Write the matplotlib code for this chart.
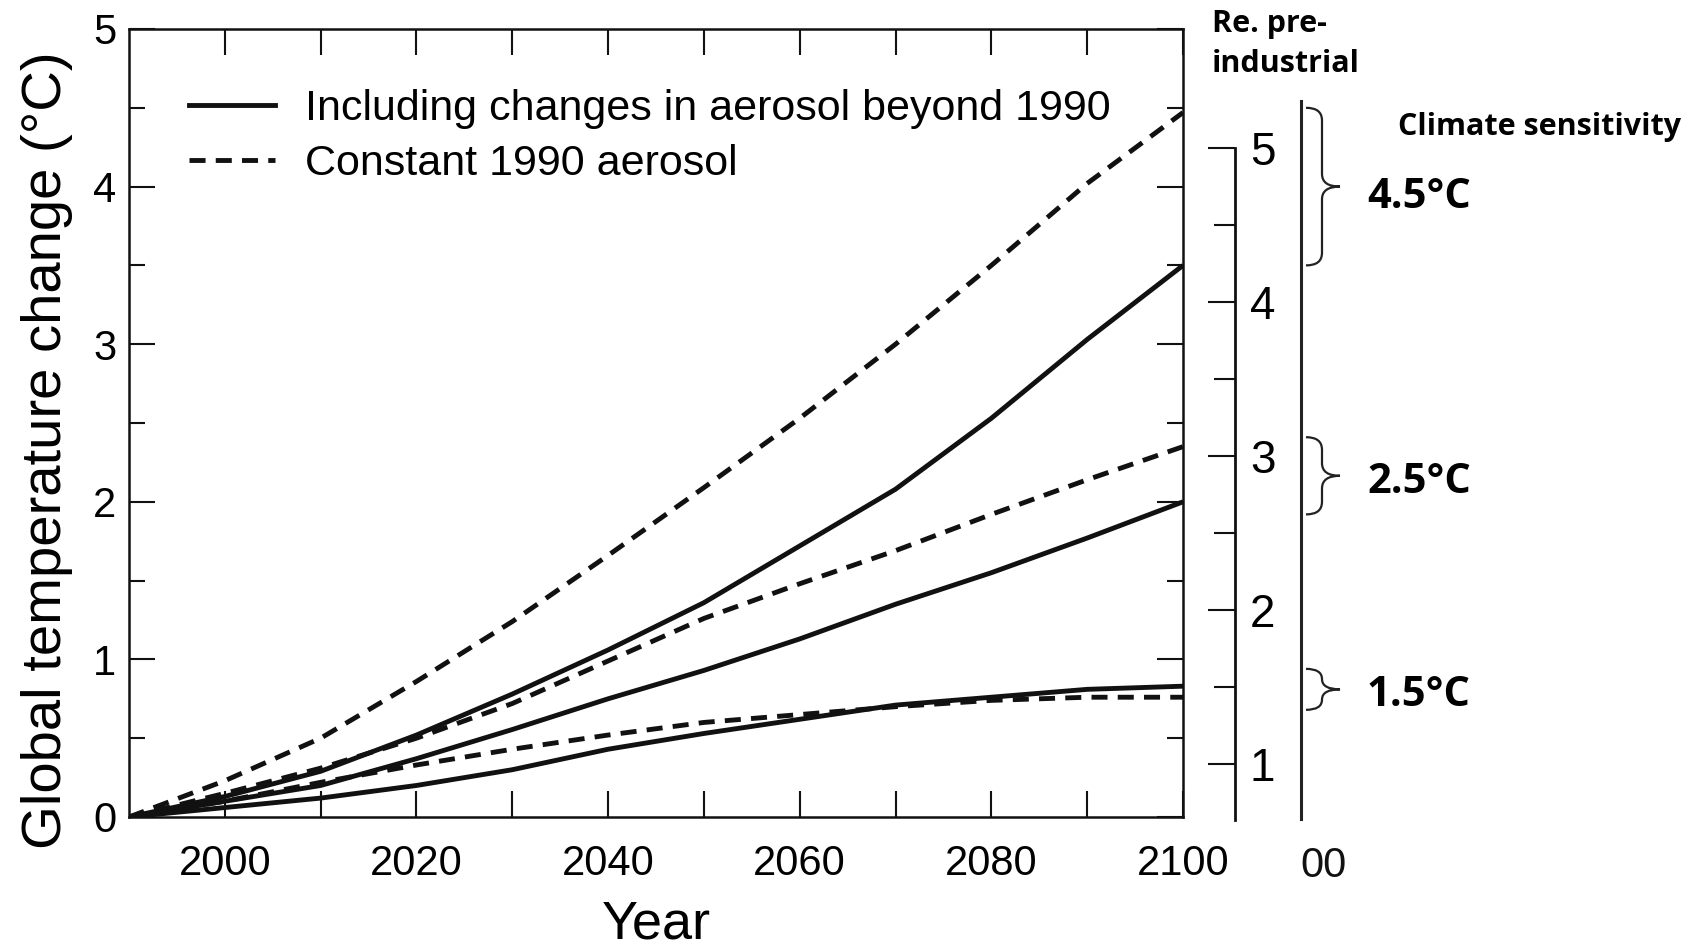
import matplotlib
matplotlib.use("Agg")
import matplotlib.pyplot as plt
from matplotlib.path import Path
from matplotlib.patches import PathPatch
from matplotlib.lines import Line2D
from matplotlib.ticker import FixedLocator

# ---------------- data ----------------
years = [1990, 2000, 2010, 2020, 2030, 2040, 2050, 2060, 2070, 2080, 2090, 2100]
high_const = [0, 0.23, 0.50, 0.86, 1.24, 1.66, 2.09, 2.53, 3.00, 3.50, 4.02, 4.47]
high_aer = [0, 0.13, 0.29, 0.52, 0.78, 1.06, 1.36, 1.72, 2.08, 2.53, 3.03, 3.50]
mid_const = [0, 0.15, 0.31, 0.50, 0.72, 0.99, 1.26, 1.48, 1.69, 1.92, 2.14, 2.35]
mid_aer = [0, 0.10, 0.20, 0.37, 0.555, 0.75, 0.93, 1.13, 1.35, 1.55, 1.77, 2.00]
low_const = [0, 0.10, 0.22, 0.33, 0.43, 0.52, 0.60, 0.65, 0.70, 0.74, 0.76, 0.76]
low_aer = [0, 0.06, 0.12, 0.20, 0.30, 0.43, 0.53, 0.62, 0.71, 0.76, 0.81, 0.83]

legend_labels = ["Including changes in aerosol beyond 1990", "Constant 1990 aerosol"]
x_major = [2000, 2020, 2040, 2060, 2080, 2100]
x_minor = [2010, 2030, 2050, 2070, 2090]
y_major = [0, 1, 2, 3, 4, 5]
y_minor = [0.5, 1.5, 2.5, 3.5, 4.5]
pre_major = [1, 2, 3, 4, 5]
pre_minor = [1.5, 2.5, 3.5, 4.5]
sens_labels = ["4.5°C", "2.5°C", "1.5°C"]
brace_low = [3.50, 1.92, 0.68]
brace_high = [4.50, 2.41, 0.94]
sens_label_y = [3.93, 2.12, 0.77]

# ---------------- figure ----------------
plt.rcParams['font.family'] = ['Liberation Sans', 'DejaVu Sans']
W, H = 1691, 952
fig = plt.figure(figsize=(W / 100, H / 100), dpi=100)


def fx(px):
    return px / W


def fy(py):
    return 1 - py / H


L, R, T, B = 129, 1183, 29, 817
ink = '#111111'
ax = fig.add_axes([fx(L), fy(B), fx(R - L), (B - T) / H])

dash = (0, (3.3, 2.1))
lw = 3.5
for s in (high_aer, mid_aer, low_aer):
    ax.plot(years, s, color=ink, lw=lw, solid_capstyle='butt', solid_joinstyle='round')
for s in (high_const, mid_const, low_const):
    ax.plot(years, s, color=ink, lw=lw, linestyle=dash, dash_capstyle='butt')

ax.set_xlim(1990, 2100)
ax.set_ylim(0, 5)
ax.xaxis.set_major_locator(FixedLocator(x_major))
ax.xaxis.set_minor_locator(FixedLocator(x_minor))
ax.yaxis.set_major_locator(FixedLocator(y_major))
ax.yaxis.set_minor_locator(FixedLocator(y_minor))
ax.tick_params(which='both', direction='in', top=True, right=True, width=1.5, color=ink)
ax.tick_params(axis='x', which='both', length=19, labelsize=30, pad=19.5)
ax.tick_params(axis='y', which='major', length=18.7, labelsize=30, pad=9)
ax.tick_params(axis='y', which='minor', length=11.5)
for sp in ax.spines.values():
    sp.set_linewidth(1.8)
    sp.set_color(ink)

ax.set_xlabel("Year", fontsize=39)
ax.xaxis.set_label_coords(0.5, -0.105)
ax.set_ylabel("Global temperature change (°C)", fontsize=40.5)
ax.yaxis.set_label_coords(-0.053, 0.466)

handles = [Line2D([], [], color=ink, lw=lw),
           Line2D([], [], color=ink, lw=lw, linestyle=dash)]
ax.legend(handles, legend_labels, loc='upper left', bbox_to_anchor=(0.057, 0.924),
          frameon=False, fontsize=31, handlelength=2.0, handletextpad=0.7,
          labelspacing=0.36, borderpad=0, borderaxespad=0)

# ---------------- pre-industrial axis ----------------
pre_lo, pre_hi = 0.656, 5.773
ax2 = fig.add_axes([fx(1234.5), fy(B), 0.0001, (B - T) / H])
ax2.set_ylim(pre_lo, pre_hi)
ax2.patch.set_visible(False)
ax2.set_xticks([])
for k in ('top', 'bottom', 'right'):
    ax2.spines[k].set_visible(False)
ax2.spines['left'].set_bounds(pre_lo - 0.02, 5)
ax2.spines['left'].set_linewidth(2.0)
ax2.spines['left'].set_color(ink)
ax2.yaxis.set_major_locator(FixedLocator(pre_major))
ax2.yaxis.set_minor_locator(FixedLocator(pre_minor))
ax2.yaxis.set_ticks_position('left')
ax2.tick_params(axis='y', which='both', direction='out', width=1.5, color=ink,
                labelleft=False, labelright=True)
ax2.tick_params(axis='y', which='major', length=19.5, labelsize=33, pad=-8.5)
ax2.tick_params(axis='y', which='minor', length=15)

# ---------------- climate sensitivity column ----------------
ax3 = fig.add_axes([0, fy(B), 1, (B - T) / H])
ax3.set_xlim(0, W)
ax3.set_ylim(0, 5)
ax3.axis('off')
ax3.plot([1301, 1301], [-0.015, 4.54], color='#222222', lw=2.2, clip_on=False)

x0, xm, xt = 1306, 1322, 1340
for lab, lo, hi, ty in zip(sens_labels, brace_low, brace_high, sens_label_y):
    mid = (lo + hi) / 2
    q = min(0.08, (hi - lo) / 4)
    verts = [(x0, hi), (xm, hi), (xm, hi - q),
             (xm, mid + q),
             (xm, mid), (xt, mid),
             (xm, mid), (xm, mid - q),
             (xm, lo + q),
             (xm, lo), (x0, lo)]
    codes = [Path.MOVETO, Path.CURVE3, Path.CURVE3,
             Path.LINETO,
             Path.CURVE3, Path.CURVE3,
             Path.CURVE3, Path.CURVE3,
             Path.LINETO,
             Path.CURVE3, Path.CURVE3]
    ax3.add_patch(PathPatch(Path(verts, codes), fill=False, lw=1.6,
                            edgecolor='#222222', clip_on=False))
    ax3.text(1367, ty, lab, fontsize=30, fontweight='bold',
             family=['Open Sans', 'DejaVu Sans'], va='center', ha='left', color='black')

ax3.text(1398, 4.38, "Climate sensitivity", fontsize=22, fontweight='bold',
         family=['Open Sans', 'DejaVu Sans'], va='center', ha='left', color='black')

fig.text(fx(1212), fy(9), "Re. pre-\nindustrial", fontsize=22, fontweight='bold',
         family=['Open Sans', 'DejaVu Sans'], va='top', ha='left', linespacing=1.45,
         color='black')
fig.text(fx(1324), fy(866), "00", fontsize=30, va='center', ha='center', color=ink)

fig.savefig("out.png", dpi=100)
